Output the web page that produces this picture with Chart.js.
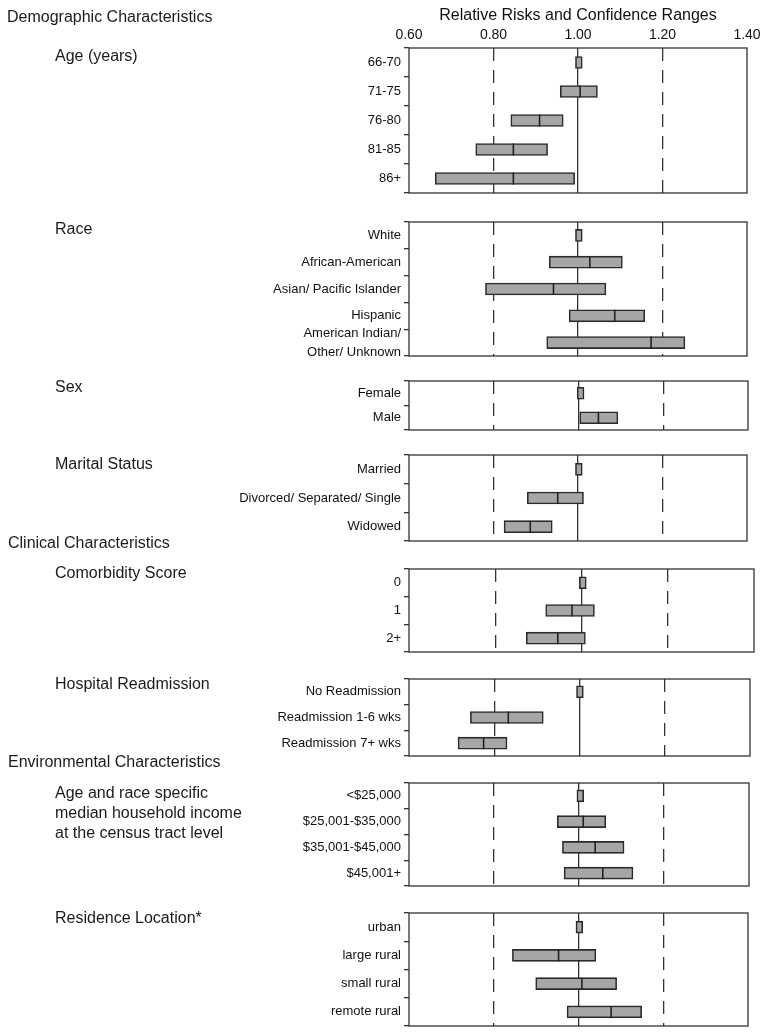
<!DOCTYPE html>
<html>
<head>
<meta charset="utf-8">
<script src="https://cdn.jsdelivr.net/npm/chart.js@4.4.0/dist/chart.umd.min.js"></script>
<style>
  body { margin: 0; background: #fff; }
  #wrap { position: relative; width: 766px; height: 1035px; font-family: "Liberation Sans", Arial, sans-serif; color: #1a1a1a; }
  canvas { position: absolute; left: 0; }
  .head { position: absolute; font-size: 16px; line-height: 20px; white-space: nowrap; z-index: 2; }
</style>
</head>
<body>
<div id="wrap"></div>
<script>
// x axis
const xMin = 0.6;
const xMax = 1.4;
const xStep = 0.2;

// Age (years)
const ageLabels = ["66-70", "71-75", "76-80", "81-85", "86+"];
const ageLow = [0.994, 0.958, 0.841, 0.758, 0.662];
const ageHigh = [1.010, 1.046, 0.965, 0.928, 0.992];
const ageRR = [null, 1.005, 0.909, 0.847, 0.847];

// Race
const raceLabels = ["White", "African-American", "Asian/ Pacific Islander", "Hispanic", ["American Indian/", "Other/ Unknown"]];
const raceLow = [0.994, 0.932, 0.781, 0.979, 0.926];
const raceHigh = [1.010, 1.105, 1.066, 1.158, 1.253];
const raceRR = [null, 1.028, 0.942, 1.087, 1.173];

// Sex
const sexLabels = ["Female", "Male"];
const sexLow = [0.997, 1.003];
const sexHigh = [1.013, 1.093];
const sexRR = [null, 1.047];

// Marital Status
const maritalLabels = ["Married", "Divorced/ Separated/ Single", "Widowed"];
const maritalLow = [0.994, 0.880, 0.825];
const maritalHigh = [1.010, 1.013, 0.939];
const maritalRR = [null, 0.952, 0.887];

// Comorbidity Score
const comorbLabels = ["0", "1", "2+"];
const comorbLow = [0.995, 0.917, 0.872];
const comorbHigh = [1.011, 1.030, 1.009];
const comorbRR = [null, 0.978, 0.945];

// Hospital Readmission
const readmLabels = ["No Readmission", "Readmission 1-6 wks", "Readmission 7+ wks"];
const readmLow = [0.993, 0.744, 0.715];
const readmHigh = [1.009, 0.915, 0.830];
const readmRR = [null, 0.833, 0.775];

// Median household income
const incomeLabels = ["<$25,000", "$25,001-$35,000", "$35,001-$45,000", "$45,001+"];
const incomeLow = [0.995, 0.949, 0.961, 0.965];
const incomeHigh = [1.011, 1.063, 1.106, 1.127];
const incomeRR = [null, 1.010, 1.038, 1.056];

// Residence Location
const resLabels = ["urban", "large rural", "small rural", "remote rural"];
const resLow = [0.994, 0.844, 0.899, 0.973];
const resHigh = [1.010, 1.041, 1.090, 1.149];
const resRR = [null, 0.953, 1.008, 1.077];

const wrap = document.getElementById("wrap");

// heading texts on the left (x, y = centre of first line)
const headings = [
  { text: "Demographic Characteristics", x: 7, y: 17 },
  { text: "Age (years)", x: 55, y: 56 },
  { text: "Race", x: 55, y: 229 },
  { text: "Sex", x: 55, y: 387 },
  { text: "Marital Status", x: 55, y: 464 },
  { text: "Clinical Characteristics", x: 8, y: 543 },
  { text: "Comorbidity Score", x: 55, y: 573 },
  { text: "Hospital Readmission", x: 55, y: 684 },
  { text: "Environmental Characteristics", x: 8, y: 762 },
  { text: "Age and race specific<br>median household income<br>at the census tract level", x: 55, y: 793 },
  { text: "Residence Location*", x: 55, y: 918 },
];

headings.forEach((h) => {
  const d = document.createElement("div");
  d.className = "head";
  d.style.left = h.x + "px";
  d.style.top = h.y - 10 + "px";
  d.innerHTML = h.text;
  wrap.appendChild(d);
});

const panels = [
  { labels: ageLabels, low: ageLow, high: ageHigh, rr: ageRR, top: 48, bottom: 193, right: 747 },
  { labels: raceLabels, low: raceLow, high: raceHigh, rr: raceRR, top: 222, bottom: 356, right: 747 },
  { labels: sexLabels, low: sexLow, high: sexHigh, rr: sexRR, top: 381, bottom: 430, right: 748 },
  { labels: maritalLabels, low: maritalLow, high: maritalHigh, rr: maritalRR, top: 455, bottom: 541, right: 747 },
  { labels: comorbLabels, low: comorbLow, high: comorbHigh, rr: comorbRR, top: 569, bottom: 652, right: 754 },
  { labels: readmLabels, low: readmLow, high: readmHigh, rr: readmRR, top: 679, bottom: 756, right: 750 },
  { labels: incomeLabels, low: incomeLow, high: incomeHigh, rr: incomeRR, top: 783, bottom: 886, right: 749 },
  { labels: resLabels, low: resLow, high: resHigh, rr: resRR, top: 913, bottom: 1026, right: 748 },
];

const lineCol = "#333";

// outline round the plot area
const framePlugin = {
  id: "frame",
  beforeDatasetsDraw(chart) {
    const a = chart.chartArea;
    const ctx = chart.ctx;
    ctx.save();
    ctx.strokeStyle = lineCol;
    ctx.lineWidth = 1.3;
    ctx.strokeRect(a.left, a.top, a.right - a.left, a.bottom - a.top);
    ctx.restore();
  },
};

function isEdge(v) {
  return Math.abs(v - xMin) < 1e-6 || Math.abs(v - xMax) < 1e-6;
}

panels.forEach((p, idx) => {
  const first = idx === 0;
  const padV = 22;
  const canvasTop = first ? 0 : p.top - padV;
  const h = p.bottom + padV - canvasTop;
  const cv = document.createElement("canvas");
  cv.width = 766;
  cv.height = h;
  cv.style.width = "766px";
  cv.style.height = h + "px";
  cv.style.top = canvasTop + "px";
  wrap.appendChild(cv);

  new Chart(cv, {
    type: "bar",
    data: {
      labels: p.labels,
      datasets: [
        {
          type: "line",
          data: p.rr,
          showLine: false,
          pointStyle: "line",
          rotation: 90,
          pointRadius: 6,
          pointHoverRadius: 6,
          pointBorderColor: "#222",
          pointBorderWidth: 1.6,
          borderColor: "#222",
          order: 0,
        },
        {
          data: p.labels.map((_, i) => [p.low[i], p.high[i]]),
          backgroundColor: "#a6a6a6",
          borderColor: "#2a2a2a",
          borderWidth: 1.6,
          borderSkipped: false,
          barThickness: 12,
          order: 1,
        },
      ],
    },
    options: {
      indexAxis: "y",
      responsive: false,
      animation: false,
      layout: { padding: { top: first ? 0 : padV, bottom: padV, left: 0, right: 766 - p.right } },
      plugins: { legend: { display: false }, tooltip: { enabled: false } },
      scales: {
        x: {
          type: "linear",
          position: first ? "top" : "bottom",
          min: xMin,
          max: xMax,
          ticks: {
            display: first,
            stepSize: xStep,
            padding: 4,
            color: "#111",
            font: { family: "Liberation Sans", size: 14 },
            callback: (v) => Number(v).toFixed(2),
          },
          title: {
            display: first,
            text: "Relative Risks and Confidence Ranges",
            color: "#111",
            font: { family: "Liberation Sans", size: 16 },
            padding: { top: 6, bottom: 2 },
          },
          grid: {
            drawTicks: false,
            lineWidth: 1.3,
            color: (c) => (c.tick && isEdge(c.tick.value) ? "rgba(0,0,0,0)" : lineCol),
          },
          border: {
            display: false,
            dash: (c) => (c.tick && Math.abs(c.tick.value - 1) > 1e-6 ? [13, 9] : []),
          },
          afterFit: (s) => {
            s.height = first ? 48 : 0;
          },
        },
        y: {
          type: "category",
          offset: true,
          grid: { offset: true, drawOnChartArea: false, drawTicks: true, tickLength: 5, color: lineCol, lineWidth: 1.3 },
          border: { display: false },
          ticks: {
            autoSkip: false,
            padding: 3,
            color: "#111",
            font: { family: "Liberation Sans", size: 13, lineHeight: 1.45 },
          },
          afterFit: (s) => {
            s.width = 409;
          },
        },
      },
    },
    plugins: [framePlugin],
  });
});
</script>
</body>
</html>
